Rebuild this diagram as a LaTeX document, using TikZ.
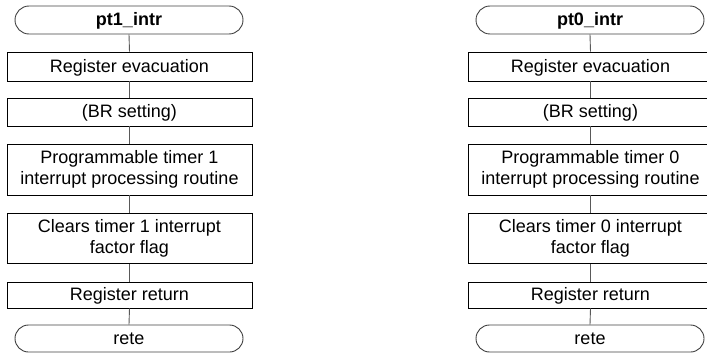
\documentclass[tikz,border=0pt]{standalone}
\usepackage{fontspec}
\setmainfont{Liberation Sans}
\begin{document}
\begin{tikzpicture}[x=1pt,y=-1pt,
  every node/.style={font=\fontsize{18}{20.5}\selectfont, align=center, inner sep=0pt,
    execute at begin node={\rule[-4pt]{0pt}{19.5pt}}},
  procbox/.style={draw=black, line width=0.9pt, minimum width=245pt},
  termbox/.style={draw=black!75, line width=0.9pt, minimum width=228pt, minimum height=28pt, rounded corners=14pt},
  conn/.style={draw=black!65, line width=0.9pt}]
\useasboundingbox (0,0) rectangle (707,353);
\clip (0,0) rectangle (707,353);
\foreach \cx/\n/\s in {129.5/1/L, 590.5/0/R}{
  \node[termbox, font=\fontsize{18}{20.5}\selectfont\bfseries] (t\s) at (\cx-0.5,20) {pt\n\_intr};
  \node[procbox, minimum height=29pt] (a\s) at (\cx,66.5) {Register evacuation};
  \node[procbox, minimum height=28pt] (b\s) at (\cx,112) {(BR setting)};
  \node[procbox, minimum height=51pt] (c\s) at (\cx,169.5) {Programmable timer \n\\interrupt processing routine};
  \node[procbox, minimum height=50pt] (d\s) at (\cx,238.5) {Clears timer \n\ interrupt\\factor flag};
  \node[procbox, minimum height=26pt] (e\s) at (\cx,295) {Register return};
  \node[termbox, minimum height=27pt, rounded corners=13.5pt] (f\s) at (\cx-0.5,338.5) {rete};
  \draw[conn] (t\s.south) -- (a\s.north);
  \draw[conn] (a\s.south) -- (b\s.north);
  \draw[conn] (b\s.south) -- (c\s.north);
  \draw[conn] (c\s.south) -- (d\s.north);
  \draw[conn] (d\s.south) -- (e\s.north);
  \draw[conn] (e\s.south) -- (f\s.north);
}
\end{tikzpicture}
\end{document}
